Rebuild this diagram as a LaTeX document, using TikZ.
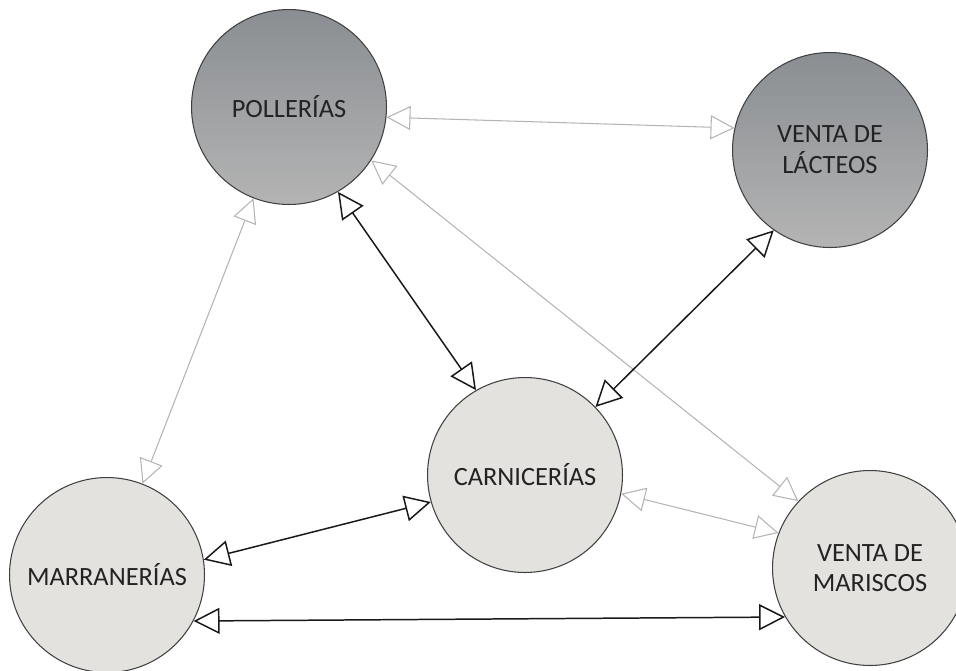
\documentclass[tikz,border=0pt]{standalone}
\usepackage{fontspec}
\setmainfont{Carlito}
\usepackage{tikz}
\usetikzlibrary{arrows.meta}
\usetikzlibrary{shapes.geometric}

\definecolor{darktop}{RGB}{138,142,146}
\definecolor{darkbot}{RGB}{180,180,180}
\definecolor{lightfill}{RGB}{228,226,223}
\definecolor{faint}{RGB}{180,180,180}
\definecolor{txt}{RGB}{35,35,35}

\tikzset{
  shop/.style={circle, draw=black!75, line width=0.6pt, minimum size=3.9cm, inner sep=0pt,
    align=center, text=txt, font=\fontsize{15}{17.5}\selectfont},
  darkshop/.style={shop, top color=darktop, bottom color=darkbot},
  lightshop/.style={shop, fill=lightfill},
  strong/.style={draw=black!90, line width=0.85pt,
    {Triangle[open,length=0.52cm,width=0.52cm]}-{Triangle[open,length=0.52cm,width=0.52cm]}},
  weak/.style={draw=faint, line width=0.6pt,
    {Triangle[open,length=0.48cm,width=0.48cm]}-{Triangle[open,length=0.48cm,width=0.48cm]}}
}

\begin{document}
\begin{tikzpicture}[x=0.02cm,y=-0.02cm]
            % Fix the page size
            \useasboundingbox (0,0) rectangle (956,670);

            % Centres of the shops
            \coordinate (CPoll) at (289,107);
            \coordinate (CLact) at (830,150);
            \coordinate (CCarn) at (525,475);
            \coordinate (CMarr) at (107,575);
            \coordinate (CMari) at (870,568);

            % Draw the shops
            \node[darkshop] (Poll) at (CPoll) {POLLERÍAS};
            \node[darkshop] (Lact) at (CLact) {VENTA DE\\LÁCTEOS};
            \node[lightshop] (Carn) at (CCarn) {CARNICERÍAS};
            \node[lightshop] (Marr) at (CMarr) {MARRANERÍAS};
            \node[lightshop] (Mari) at (CMari) {VENTA DE\\MARISCOS};

            % Draw weak relations
            \draw[weak] (Poll.-6) -- (Lact.167);
            \draw[weak] (Poll.-33) -- (Mari.137);
            \draw[weak] (Poll) -- (Marr);
            \draw[weak] (Carn.-11) -- (Mari.159);

            % Draw strong relations
            \draw[strong] (Poll.-60) -- (Carn.120);
            \draw[strong] (Lact.-125) -- (Carn.44);
            \draw[strong] (Marr.9) -- (Carn.-164);
            \draw[strong] (Marr.-28) -- (Mari.-150);
        \end{tikzpicture}
\end{document}
